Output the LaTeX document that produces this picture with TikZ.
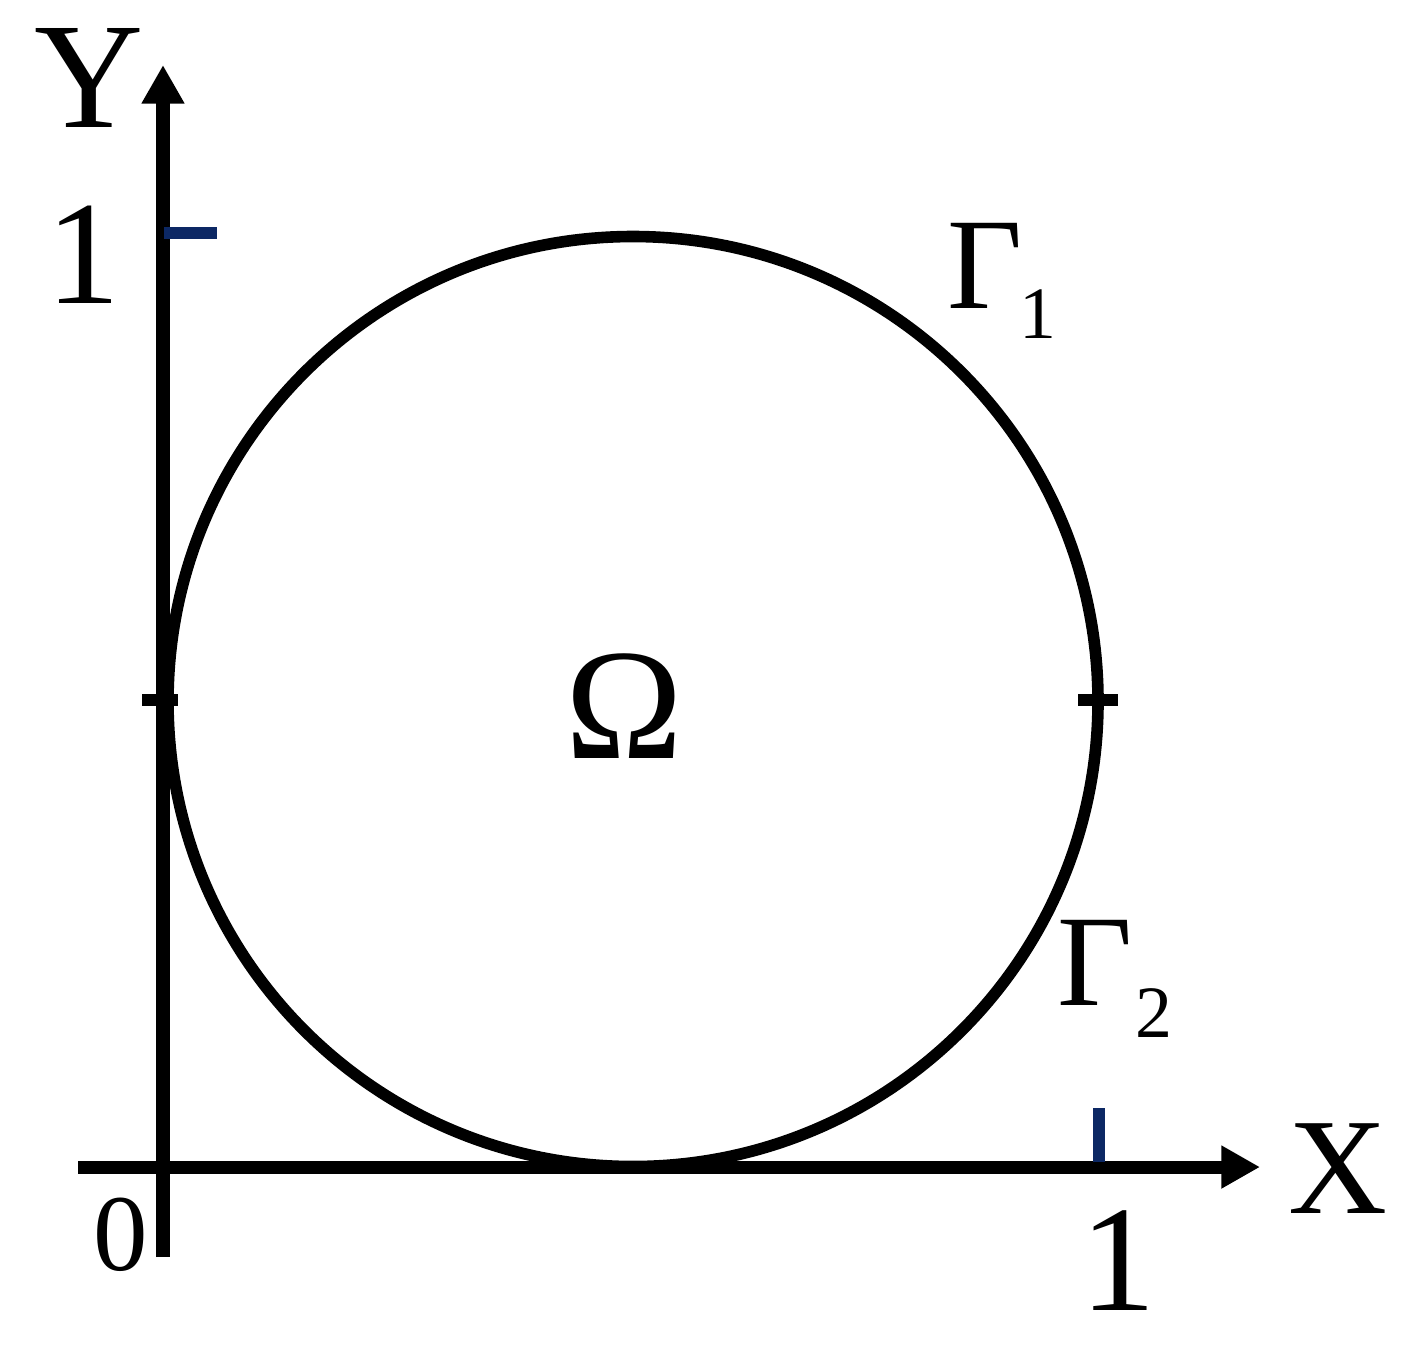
\documentclass[tikz,border=0pt]{standalone}
\usepackage{fontspec}
\setmainfont{Liberation Serif}
\usetikzlibrary{arrows.meta}
\definecolor{tickblue}{RGB}{12,40,100}
\tikzset{
  axisline/.style={line width=3.7pt, -{Triangle[length=11pt,width=11.5pt]}},
  lbl/.style={inner sep=0pt, anchor=base},
  blacktick/.style={line width=3.4pt},
  bluetick/.style={line width=3.4pt, draw=tickblue},
}
\begin{document}
\begin{tikzpicture}[x=0.01cm,y=-0.01cm]
\useasboundingbox (0,0) rectangle (1419,1366);
% axes
\coordinate (ybot) at (163,1257);
\coordinate (ytop) at (163,65);
\coordinate (xleft) at (78,1167);
\coordinate (xright) at (1260,1167);
\draw[axisline] (ybot) -- (ytop);
\draw[axisline] (xleft) -- (xright);
% circle
\coordinate (c) at (633,701.5);
\draw[line width=3.3pt] (c) circle[radius=465];
% ticks
\draw[blacktick] (142,700) -- (178,700);
\draw[blacktick] (1078,700) -- (1118,700);
\draw[bluetick] (164,233) -- (217,233);
\draw[bluetick] (1099,1108) -- (1099,1162);
% labels
\node[lbl, font=\fontsize{43}{43}\selectfont] (Ylab) at (89,127) {Y};
\node[lbl, font=\fontsize{42}{42}\selectfont] (yone) at (83,303) {1};
\node[lbl, font=\fontsize{37}{37}\selectfont] (g1) at (985,308) {Γ};
\node[lbl, font=\fontsize{21}{21}\selectfont] (g1s) at (1038,338) {1};
\node[lbl, font=\fontsize{45}{45}\selectfont] (om) at (624,758) {Ω};
\node[lbl, font=\fontsize{37}{37}\selectfont] (g2) at (1095,1005) {Γ};
\node[lbl, font=\fontsize{21}{21}\selectfont] (g2s) at (1154,1037) {2};
\node[lbl, font=\fontsize{39}{39}\selectfont] (Xlab) at (1338,1213) {X};
\node[lbl, font=\fontsize{31}{31}\selectfont] (zero) at (121,1270) {0};
\node[lbl, font=\fontsize{43}{43}\selectfont] (xone) at (1118,1310) {1};
\end{tikzpicture}
\end{document}
